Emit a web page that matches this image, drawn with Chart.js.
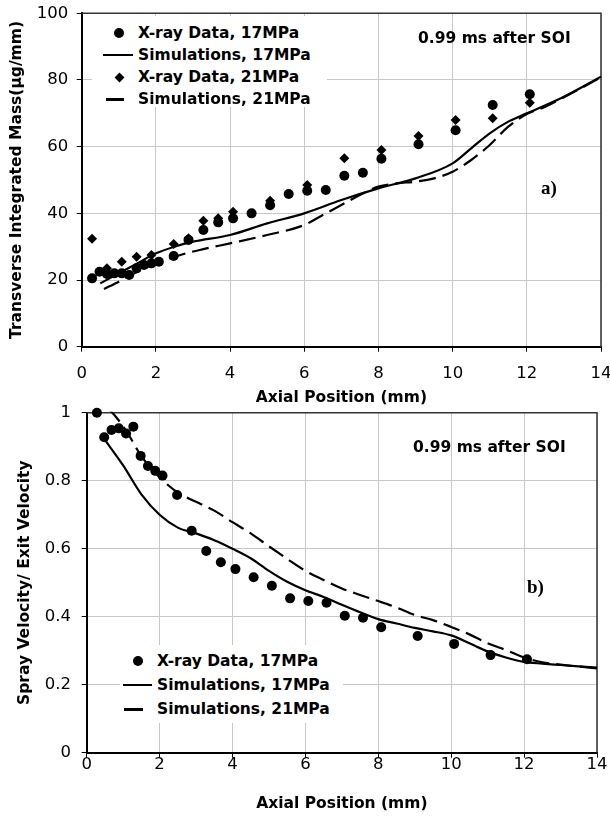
<!DOCTYPE html>
<html>
<head>
<meta charset="utf-8">
<script src="https://cdn.jsdelivr.net/npm/chart.js@4.4.1/dist/chart.umd.min.js"></script>
<style>
  body { margin: 0; background: #fff; }
  #wrap { position: relative; width: 610px; height: 817px; overflow: hidden; }
  canvas { position: absolute; left: 0; }
  .box { position: absolute; background: #fff; }
  .txt { position: absolute; font: bold 15.5px "DejaVu Sans"; color: #000; white-space: nowrap; line-height: 18px; }
  .tag { position: absolute; font: bold 19px "Liberation Serif"; color: #000; line-height: 20px; }
  .sym { position: absolute; background: #000; }
</style>
</head>
<body>
<div id="wrap">
  <canvas id="mass-chart" width="610" height="410" style="top:0"></canvas>
  <canvas id="vel-chart" width="610" height="412" style="top:405px"></canvas>
</div>
<script>
const xTicks = [0, 2, 4, 6, 8, 10, 12, 14];
const massTicks = [0, 20, 40, 60, 80, 100];
const velTicks = [0, 0.2, 0.4, 0.6, 0.8, 1];

// a) transverse integrated mass
const massXray17X = [0.28, 0.48, 0.68, 0.88, 1.08, 1.28, 1.48, 1.68, 1.88, 2.08, 2.48, 2.88, 3.28, 3.68, 4.08, 4.58, 5.08, 5.58, 6.08, 6.58, 7.08, 7.58, 8.08, 9.08, 10.08, 11.08, 12.08];
const massXray17Y = [20.5, 22.5, 21.8, 22, 22, 21.5, 23.5, 24.5, 25, 25.5, 27.2, 32, 35, 37.3, 38.5, 40, 42.4, 45.8, 46.8, 47, 51.3, 52.2, 56.4, 60.7, 64.9, 72.5, 75.7];
const massXray21X = [0.28, 0.68, 1.08, 1.48, 1.88, 2.48, 2.88, 3.28, 3.68, 4.08, 5.08, 6.08, 7.08, 8.08, 9.08, 10.08, 11.08, 12.08];
const massXray21Y = [32.4, 23.5, 25.5, 27, 27.5, 30.8, 32.5, 37.8, 38.5, 40.5, 43.8, 48.5, 56.5, 59, 63.2, 68, 68.5, 73.2];
const massSim17X = [0.5, 1, 1.5, 2, 2.5, 3, 4, 5, 6, 7, 8, 9, 10, 10.5, 11, 11.5, 12, 13, 14];
const massSim17Y = [19, 22, 25, 28, 30, 31.5, 33.5, 37, 40, 44, 47.5, 50.5, 55, 59.5, 64, 67.5, 70, 75, 81];
const massSim21X = [0.6, 1, 1.5, 2, 2.75, 3.25, 4, 5, 6, 6.5, 7, 7.5, 8, 8.5, 9, 9.5, 10, 10.5, 11, 11.5, 12, 12.5, 13, 14];
const massSim21Y = [17.3, 19.5, 22.5, 25, 27.8, 29.2, 31, 33.5, 36.5, 39.5, 42.5, 45.5, 48, 49, 49.5, 50.5, 52.5, 56, 60.5, 66, 69.8, 72, 74.8, 80.8];

// b) spray velocity / exit velocity
const velXray17X = [0.28, 0.48, 0.68, 0.88, 1.08, 1.28, 1.48, 1.68, 1.88, 2.08, 2.48, 2.88, 3.28, 3.68, 4.08, 4.58, 5.08, 5.58, 6.08, 6.58, 7.08, 7.58, 8.08, 9.08, 10.08, 11.08, 12.08];
const velXray17Y = [1.0, 0.928, 0.949, 0.954, 0.939, 0.959, 0.873, 0.843, 0.829, 0.815, 0.758, 0.653, 0.593, 0.56, 0.54, 0.516, 0.491, 0.454, 0.446, 0.441, 0.403, 0.397, 0.369, 0.343, 0.32, 0.287, 0.275];
const velSim17X = [0.5, 1, 1.5, 2, 2.5, 3, 3.5, 4, 4.5, 5, 5.5, 6, 6.5, 7, 7.5, 8, 8.5, 9, 9.5, 10, 10.5, 11, 11.5, 12, 12.5, 13, 14];
const velSim17Y = [0.92, 0.845, 0.76, 0.70, 0.662, 0.645, 0.625, 0.60, 0.572, 0.535, 0.503, 0.478, 0.458, 0.435, 0.413, 0.393, 0.38, 0.367, 0.357, 0.345, 0.322, 0.298, 0.28, 0.267, 0.262, 0.258, 0.25];
const velSim21X = [0.6, 0.8, 1.1, 1.5, 2, 2.5, 3, 3.5, 4, 4.5, 5, 5.5, 6, 6.5, 7, 7.5, 8, 8.5, 9, 9.5, 10, 10.5, 11, 11.5, 12, 12.5, 13, 14];
const velSim21Y = [1.012, 0.988, 0.944, 0.872, 0.81, 0.765, 0.738, 0.712, 0.678, 0.645, 0.607, 0.57, 0.535, 0.508, 0.483, 0.464, 0.446, 0.427, 0.405, 0.39, 0.37, 0.348, 0.322, 0.302, 0.28, 0.266, 0.259, 0.248];

const massLegend = [
  ['circle', 'X-ray Data, 17MPa'],
  ['line', 'Simulations, 17MPa'],
  ['diamond', 'X-ray Data, 21MPa'],
  ['dash', 'Simulations, 21MPa'],
];
const velLegend = [
  ['circle', 'X-ray Data, 17MPa'],
  ['line', 'Simulations, 17MPa'],
  ['dash', 'Simulations, 21MPa'],
];

const zip = (xs, ys) => xs.map((x, i) => ({ x, y: ys[i] }));

const tickFont = { family: 'DejaVu Sans', size: 16.5 };
const titleFont = { family: 'DejaVu Sans', size: 15.5, weight: 'bold' };

// top and right edges of the plot area
const framePlugin = {
  id: 'frame',
  beforeDatasetsDraw(chart) {
    const { ctx, chartArea: a } = chart;
    ctx.save();
    ctx.strokeStyle = '#333';
    ctx.lineWidth = 1.5;
    ctx.beginPath();
    ctx.moveTo(a.left, a.top);
    ctx.lineTo(a.right, a.top);
    ctx.lineTo(a.right, a.bottom);
    ctx.stroke();
    ctx.restore();
  },
};

function pointSet(data, style) {
  return {
    data, showLine: false, pointStyle: style, pointRadius: 5, pointHoverRadius: 5,
    backgroundColor: '#000', borderColor: '#000', borderWidth: 0, clip: false,
  };
}

function lineSet(data, dashed) {
  return {
    data, showLine: true, pointRadius: 0, borderColor: '#000', borderWidth: 2.2,
    borderDash: dashed ? [17, 7] : [], cubicInterpolationMode: 'monotone', clip: 1,
  };
}

function makeChart(id, g) {
  return new Chart(document.getElementById(id), {
    type: 'scatter',
    data: { datasets: g.datasets },
    plugins: [framePlugin],
    options: {
      responsive: false,
      animation: false,
      devicePixelRatio: 1,
      layout: { padding: { top: g.top, right: g.right, left: 0, bottom: 0 } },
      plugins: { legend: { display: false }, tooltip: { enabled: false } },
      scales: {
        x: {
          type: 'linear', min: 0, max: 14,
          afterBuildTicks: s => { s.ticks = xTicks.map(v => ({ value: v })); },
          afterFit: s => { s.height = g.xHeight; s.paddingLeft = 0; s.paddingRight = 0; },
          ticks: { font: tickFont, color: '#000', padding: g.xPad, maxRotation: 0, callback: v => String(v) },
          grid: { color: '#c8c8c8', lineWidth: 1, tickColor: '#000', tickLength: 5 },
          border: { color: '#000', width: 2 },
          title: { display: true, text: 'Axial Position (mm)', font: titleFont, color: '#000', padding: { top: 0, bottom: g.xTitlePad } },
        },
        y: {
          type: 'linear', min: g.yTicks[0], max: g.yTicks[g.yTicks.length - 1],
          afterBuildTicks: s => { s.ticks = g.yTicks.map(v => ({ value: v })); },
          afterFit: s => { s.width = g.yWidth; s.paddingTop = 0; s.paddingBottom = 0; },
          ticks: { font: tickFont, color: '#000', padding: g.yPad, callback: v => String(v) },
          grid: { color: '#c8c8c8', lineWidth: 1, tickColor: '#000', tickLength: 5 },
          border: { color: '#000', width: 2 },
          title: { display: true, text: g.yTitle, font: titleFont, color: '#000', padding: { top: g.yTitlePad, bottom: 0 } },
        },
      },
    },
  });
}

function addLegend(entries, g) {
  const wrap = document.getElementById('wrap');
  const box = document.createElement('div');
  box.className = 'box';
  Object.assign(box.style, { left: g.left + 'px', top: g.top + 'px', width: g.width + 'px', height: g.height + 'px' });
  wrap.appendChild(box);
  entries.forEach(([kind, label], i) => {
    const cy = g.firstY + i * g.step;
    const s = document.createElement('div');
    s.className = 'sym';
    if (kind === 'circle') {
      Object.assign(s.style, { left: (g.symX - 5) + 'px', top: (cy - 5) + 'px', width: '10px', height: '10px', borderRadius: '50%' });
    } else if (kind === 'diamond') {
      Object.assign(s.style, { left: (g.symX - 3.5) + 'px', top: (cy - 3.5) + 'px', width: '7px', height: '7px', transform: 'rotate(45deg)' });
    } else if (kind === 'line') {
      Object.assign(s.style, { left: g.lineX0 + 'px', top: (cy - 1) + 'px', width: (g.lineX1 - g.lineX0) + 'px', height: '2.2px' });
    } else {
      Object.assign(s.style, { left: g.dashX0 + 'px', top: (cy - 1.5) + 'px', width: (g.dashX1 - g.dashX0) + 'px', height: '3px' });
    }
    wrap.appendChild(s);
    const t = document.createElement('div');
    t.className = 'txt';
    t.textContent = label;
    Object.assign(t.style, { left: g.textX + 'px', top: (cy - 9) + 'px' });
    wrap.appendChild(t);
  });
}

function addText(cls, text, left, top) {
  const t = document.createElement('div');
  t.className = cls;
  t.textContent = text;
  Object.assign(t.style, { left: left + 'px', top: top + 'px' });
  document.getElementById('wrap').appendChild(t);
}

makeChart('mass-chart', {
  top: 13.3, right: 9, yWidth: 81.7, xHeight: 63.3, xPad: 12, yPad: 8.4,
  xTitlePad: 2.7, yTitlePad: 7.2, yTicks: massTicks,
  yTitle: 'Transverse Integrated Mass(\u03bcg/mm)',
  datasets: [
    pointSet(zip(massXray17X, massXray17Y), 'circle'),
    lineSet(zip(massSim17X, massSim17Y), false),
    pointSet(zip(massXray21X, massXray21Y), 'rectRot'),
    lineSet(zip(massSim21X, massSim21Y), true),
  ],
});

makeChart('vel-chart', {
  top: 7.7, right: 13, yWidth: 86.7, xHeight: 64.3, xPad: -3, yPad: 10.7,
  xTitlePad: 3.7, yTitlePad: 15.2, yTicks: velTicks,
  yTitle: 'Spray Velocity/ Exit Velocity',
  datasets: [
    pointSet(zip(velXray17X, velXray17Y), 'circle'),
    lineSet(zip(velSim17X, velSim17Y), false),
    lineSet(zip(velSim21X, velSim21Y), true),
  ],
});

addLegend(massLegend, {
  left: 92, top: 16, width: 235, height: 91, firstY: 33, step: 22,
  symX: 119, lineX0: 103, lineX1: 133, dashX0: 106, dashX1: 124, textX: 138,
});
addLegend(velLegend, {
  left: 120, top: 645, width: 223, height: 78, firstY: 661, step: 24,
  symX: 138, lineX0: 123, lineX1: 152, dashX0: 124, dashX1: 143, textX: 157,
});

addText('txt', '0.99 ms after SOI', 418, 29);
addText('txt', '0.99 ms after SOI', 413, 438);
addText('tag', 'a)', 541, 178);
addText('tag', 'b)', 527, 577);
</script>
</body>
</html>
